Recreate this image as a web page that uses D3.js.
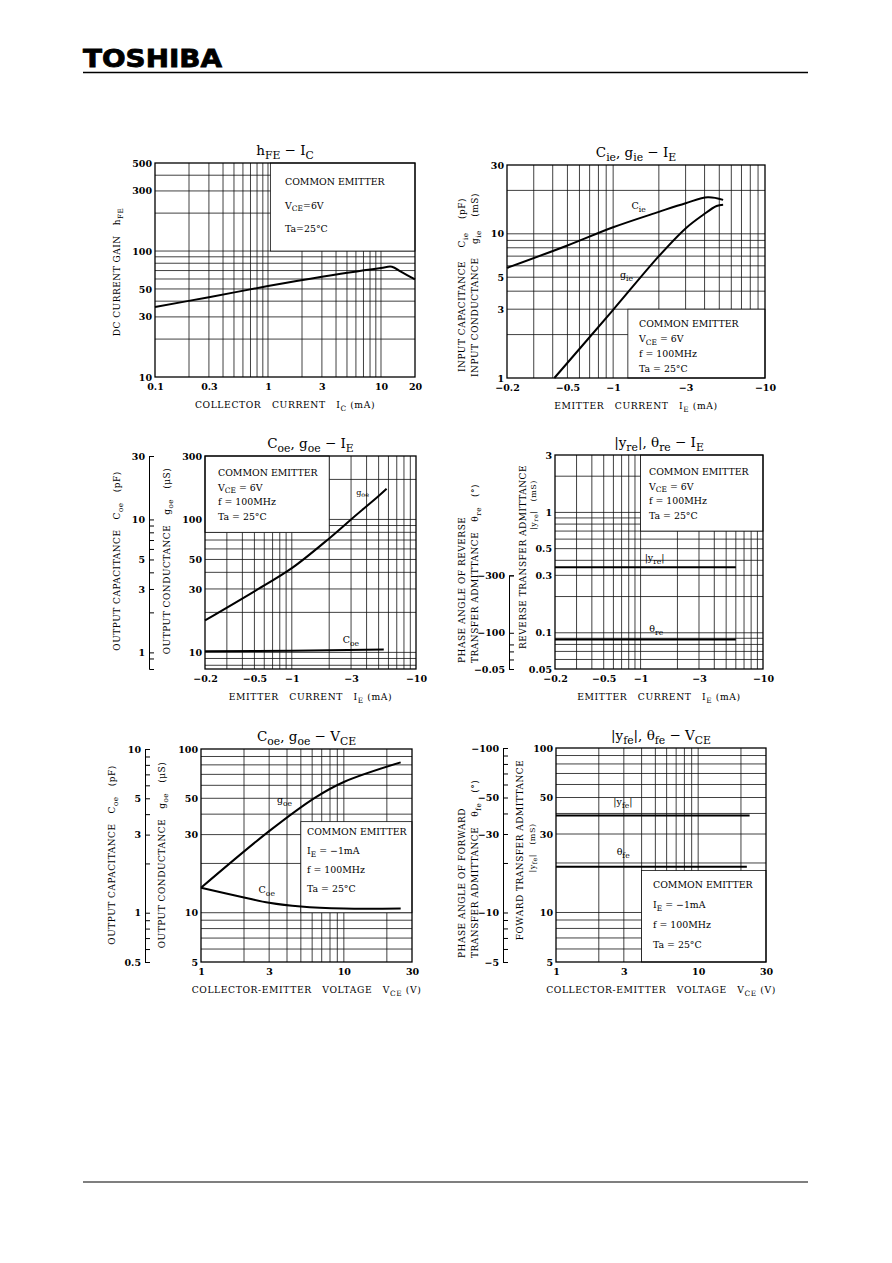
<!DOCTYPE html>
<html lang="en">
<head>
<meta charset="UTF-8">
<title>TOSHIBA – small-signal characteristics</title>
<script src="https://d3js.org/d3.v7.min.js"></script>
<style>
  body { margin: 0; background: #fff; }
  svg text { font-family: "DejaVu Serif", "Liberation Serif", serif; fill: #000; white-space: pre; }
</style>
</head>
<body>
<script>
// ---------- data ----------
// hFE – IC
const hfeIcX = [0.1, 0.3, 1, 3, 10, 12.5, 15, 20];
const hfeIcY = [36, 43, 52.7, 62.5, 73.5, 75, 68.5, 59.6];

// Cie, gie – IE (IE in mA, negative)
const cieIeX = [-0.2, -0.5, -1, -2, -3, -4.2, -5.3];
const cieIeY = [5.8, 8.3, 11.1, 14.2, 16.3, 17.9, 17.2];
const gieIeX = [-0.41, -1, -2, -3, -3.9, -4.8, -5.3];
const gieIeY = [1, 2.97, 7.0, 10.9, 13.5, 15.6, 15.9];

// Coe, goe – IE
const goeIeX = [-0.2, -0.5, -1, -2, -3, -5, -5.8];
const goeIeY = [17.4, 28.8, 43, 72, 100, 150, 170];
const coeIeX = [-0.2, -1, -5.5];
const coeIeY = [1.02, 1.03, 1.05];

// |yre|, θre – IE
const yreIeX = [-0.2, -6];
const yreIeY = [0.35, 0.35];
const thReIeX = [-0.2, -6];
const thReIeY = [-88, -88];

// Coe, goe – VCE
const goeVceX = [1, 3, 6.3, 10, 25];
const goeVceY = [14.2, 31.5, 50.5, 62.9, 82.9];
const coeVceX = [1, 2, 3, 5, 10, 25];
const coeVceY = [1.42, 1.24, 1.15, 1.09, 1.06, 1.06];

// |yfe|, θfe – VCE
const yfeVceX = [1, 23];
const yfeVceY = [38.9, 38.9];
const thFeVceX = [1, 22];
const thFeVceY = [-19, -19];

// ---------- tick labels ----------
const ticksIc = [0.1, 0.3, 1, 3, 10, 20];
const ticksHfe = [10, 30, 50, 100, 300, 500];
const ticksIe = [-0.2, -0.5, -1, -3, -10];
const ticksCie = [1, 3, 5, 10, 30];
const ticksGoeIe = [10, 30, 50, 100, 300];
const ticksYre = [0.05, 0.1, 0.3, 0.5, 1, 3];
const ticksVce = [1, 3, 10, 30];
const ticksGoeVce = [5, 10, 30, 50, 100];
const ticksYfe = [5, 10, 30, 50, 100];

const secTicksCoeIe = [30, 10, 9, 8, 7, 6, 5, 4, 3, 2, 1, 0.9];
const secLabelsCoeIe = [1, 3, 5, 10, 30];
const secTicksThRe = [-300, -100, -80, -70, -60, -50];
const secLabelsThRe = { "-300": "−300", "-100": "−100", "-50": "−0.05" };
const secTicksCoeVce = [10, 9, 8, 7, 6, 5, 4, 3, 2, 1, 0.9, 0.8, 0.7, 0.6, 0.5];
const secLabelsCoeVce = [0.5, 1, 3, 5, 10];
const secTicksThFe = [-100, -90, -80, -70, -60, -50, -40, -30, -20, -10, -9, -8, -7, -6, -5];
const secLabelsThFe = [-5, -10, -30, -50, -100];

const legendVce = ["COMMON EMITTER", "V{CE} = 6V", "f = 100MHz", "Ta = 25°C"];
const legendIe = ["COMMON EMITTER", "I{E} = −1mA", "f = 100MHz", "Ta = 25°C"];

// ---------- helpers ----------
const svg = d3.select("body").append("svg").attr("width", 892).attr("height", 1263);

function gridValues(domain) {
  const sign = domain[0] < 0 ? -1 : 1;
  const a = domain.map(Math.abs), lo = Math.min(...a), hi = Math.max(...a);
  const out = [];
  for (let e = Math.floor(Math.log10(lo)); e <= Math.ceil(Math.log10(hi)); e++) {
    for (let m = 1; m <= 9; m++) {
      const v = +(m * Math.pow(10, e)).toPrecision(6);
      if (v > lo * 1.0001 && v < hi * 0.9999) out.push(sign * v);
    }
  }
  return out;
}

// "C{ie}" -> C with subscript ie
function rich(sel, str, fs) {
  let sub = false;
  str.split(/(\{[^}]*\})/).filter(s => s.length).forEach(part => {
    const isSub = part[0] === "{";
    const t = sel.append("tspan").text(isSub ? part.slice(1, -1) : part);
    if (isSub) { t.attr("font-size", fs * 0.8).attr("dy", fs * 0.3); sub = true; }
    else if (sub) { t.attr("dy", -fs * 0.3); sub = false; }
  });
  return sel;
}

const fmt = v => (v < 0 ? "−" : "") + Math.abs(v);

// ---------- panels ----------
const panels = [
  {
    box: [155, 163, 415, 377], xDomain: [0.1, 20], yDomain: [10, 500],
    xTicks: ticksIc, yTicks: ticksHfe,
    title: "h{FE} − I{C}", xLabel: "COLLECTOR   CURRENT   I{C} (mA)",
    yLabels: [{ x: 120, y: 272, a: "middle", t: "DC CURRENT GAIN   h{FE}" }],
    clear: { x: [1.05, 20], y: [100, 500] },
    legend: { x: 285, y: 185, dy: 23.5, lines: ["COMMON EMITTER", "V{CE}=6V", "Ta=25°C"] },
    curves: [{ xs: hfeIcX, ys: hfeIcY }],
    notes: []
  },
  {
    box: [507, 165, 765, 378], xDomain: [-0.2, -10], yDomain: [1, 30],
    xTicks: ticksIe, yTicks: ticksCie,
    title: "C{ie}, g{ie} − I{E}", xLabel: "EMITTER   CURRENT   I{E} (mA)",
    yLabels: [
      { x: 465, y: 285, a: "middle", t: "INPUT CAPACITANCE    C{ie}    (pF)" },
      { x: 478, y: 285, a: "middle", t: "INPUT CONDUCTANCE    g{ie}    (mS)" }
    ],
    clear: { x: [-1.25, -10], y: [1, 3] },
    legend: { x: 639, y: 327, dy: 15, lines: legendVce },
    curves: [{ xs: cieIeX, ys: cieIeY }, { xs: gieIeX, ys: gieIeY }],
    notes: [{ t: "C{ie}", x: -1.32, y: 14.9 }, { t: "g{ie}", x: -1.11, y: 4.93 }]
  },
  {
    box: [205, 456, 416, 669], xDomain: [-0.2, -10], yDomain: [7.5, 300],
    xTicks: ticksIe, yTicks: ticksGoeIe,
    title: "C{oe}, g{oe} − I{E}", xLabel: "EMITTER   CURRENT   I{E} (mA)",
    yLabels: [
      { x: 120, y: 561, a: "middle", t: "OUTPUT CAPACITANCE   C{oe}   (pF)" },
      { x: 170, y: 561, a: "middle", t: "OUTPUT CONDUCTANCE   g{oe}   (μS)" }
    ],
    clear: { x: [-0.2, -2], y: [80, 300] },
    legend: { x: 218, y: 476, dy: 14.5, lines: legendVce },
    sec: { x: 149, domain: [0.75, 30], span: [0.75, 30], ticks: secTicksCoeIe,
           label: v => secLabelsCoeIe.includes(v) ? fmt(v) : "" },
    curves: [{ xs: goeIeX, ys: goeIeY }, { xs: coeIeX, ys: coeIeY, sec: true }],
    notes: [{ t: "g{oe}", x: -3.3, y: 153, fs: 8 }, { t: "C{oe}", x: -2.57, y: 11.8 }]
  },
  {
    box: [555, 455, 763, 669], xDomain: [-0.2, -10], yDomain: [0.05, 3],
    xTicks: ticksIe, yTicks: ticksYre,
    title: "|y{re}|, θ{re} − I{E}", xLabel: "EMITTER   CURRENT   I{E} (mA)",
    yLabels: [
      { x: 465, y: 663, a: "start", t: "PHASE ANGLE OF REVERSE" },
      { x: 478, y: 663, a: "start", t: "TRANSFER ADMITTANCE   θ{re}   (°)" },
      { x: 526, y: 557, a: "middle", t: "REVERSE TRANSFER ADMITTANCE" },
      { x: 536, y: 505, a: "middle", t: "|y{re}|   (mS)", fs: 8 }
    ],
    clear: { x: [-1, -10], y: [0.7, 3] },
    legend: { x: 649, y: 475, dy: 14.5, lines: legendVce },
    sec: { x: 509, domain: [-50, -3000], span: [-50, -300], ticks: secTicksThRe,
           label: v => secLabelsThRe[v] || "" },
    curves: [{ xs: yreIeX, ys: yreIeY }, { xs: thReIeX, ys: thReIeY, sec: true }],
    notes: [{ t: "|y{re}|", x: -1.08, y: 0.393 }, { t: "θ{re}", x: -1.18, y: 0.101 }]
  },
  {
    box: [201, 749, 412, 962], xDomain: [1, 30], yDomain: [5, 100],
    xTicks: ticksVce, yTicks: ticksGoeVce,
    title: "C{oe}, g{oe} − V{CE}", xLabel: "COLLECTOR-EMITTER   VOLTAGE   V{CE} (V)",
    yLabels: [
      { x: 115, y: 855, a: "middle", t: "OUTPUT CAPACITANCE   C{oe}   (pF)" },
      { x: 165, y: 855, a: "middle", t: "OUTPUT CONDUCTANCE   g{oe}   (μS)" }
    ],
    clear: { x: [5, 30], y: [10, 36] },
    legend: { x: 307, y: 835, dy: 19, lines: legendIe },
    sec: { x: 145, domain: [0.5, 10], span: [0.5, 10], ticks: secTicksCoeVce,
           label: v => secLabelsCoeVce.includes(v) ? fmt(v) : "" },
    curves: [{ xs: goeVceX, ys: goeVceY }, { xs: coeVceX, ys: coeVceY, sec: true }],
    notes: [{ t: "g{oe}", x: 3.4, y: 46.8 }, { t: "C{oe}", x: 2.53, y: 13.2 }]
  },
  {
    box: [556, 748, 766, 962], xDomain: [1, 30], yDomain: [5, 100],
    xTicks: ticksVce, yTicks: ticksYfe,
    title: "|y{fe}|, θ{fe} − V{CE}", xLabel: "COLLECTOR-EMITTER   VOLTAGE   V{CE} (V)",
    yLabels: [
      { x: 465, y: 958, a: "start", t: "PHASE ANGLE OF FORWARD" },
      { x: 478, y: 958, a: "start", t: "TRANSFER ADMITTANCE   θ{fe}   (°)" },
      { x: 523, y: 850, a: "middle", t: "FOWARD TRANSFER ADMITTANCE" },
      { x: 535, y: 848, a: "middle", t: "|y{fe}|   (mS)", fs: 8 }
    ],
    clear: { x: [4, 30], y: [5, 18] },
    legend: { x: 653, y: 888, dy: 20, lines: legendIe },
    sec: { x: 503, domain: [-5, -100], span: [-5, -100], ticks: secTicksThFe,
           label: v => secLabelsThFe.includes(v) ? fmt(v) : "" },
    curves: [{ xs: yfeVceX, ys: yfeVceY }, { xs: thFeVceX, ys: thFeVceY, sec: true }],
    notes: [{ t: "|y{fe}|", x: 2.53, y: 45.2 }, { t: "θ{fe}", x: 2.67, y: 22.4 }]
  }
];

function drawPanel(p) {
  const [L, T, R, B] = p.box;
  const x = d3.scaleLog().domain(p.xDomain).range([L, R]);
  const y = d3.scaleLog().domain(p.yDomain).range([B, T]);
  const s = p.sec ? d3.scaleLog().domain(p.sec.domain).range([B, T]) : null;
  const g = svg.append("g");

  // grid
  g.append("g").selectAll("line").data(gridValues(p.xDomain)).join("line")
    .attr("x1", d => x(d)).attr("x2", d => x(d)).attr("y1", T).attr("y2", B)
    .attr("stroke", "#111").attr("stroke-width", 0.8);
  g.append("g").selectAll("line").data(gridValues(p.yDomain)).join("line")
    .attr("y1", d => y(d)).attr("y2", d => y(d)).attr("x1", L).attr("x2", R)
    .attr("stroke", "#111").attr("stroke-width", 0.8);

  // blank area for the conditions text
  const cx = p.clear.x.map(x), cy = p.clear.y.map(y);
  g.append("rect")
    .attr("x", Math.min(...cx)).attr("y", Math.min(...cy))
    .attr("width", Math.abs(cx[1] - cx[0])).attr("height", Math.abs(cy[1] - cy[0]))
    .attr("fill", "#fff").attr("stroke", "#111").attr("stroke-width", 0.8);

  // frame
  g.append("rect").attr("x", L).attr("y", T).attr("width", R - L).attr("height", B - T)
    .attr("fill", "none").attr("stroke", "#000").attr("stroke-width", 1.3);

  // curves
  p.curves.forEach(c => {
    const ys = c.sec ? s : y;
    const pts = c.xs.map((v, i) => [x(v), ys(c.ys[i])]);
    g.append("path").attr("d", d3.line().curve(d3.curveCatmullRom.alpha(0.5))(pts))
      .attr("fill", "none").attr("stroke", "#000").attr("stroke-width", 2);
  });

  // axes (labels only, frame draws the lines)
  const xa = g.append("g").attr("transform", `translate(0,${B})`)
    .call(d3.axisBottom(x).tickValues(p.xTicks).tickFormat(fmt).tickSize(0).tickPadding(6));
  const ya = g.append("g").attr("transform", `translate(${L},0)`)
    .call(d3.axisLeft(y).tickValues(p.yTicks).tickFormat(fmt).tickSize(0).tickPadding(3));
  [xa, ya].forEach(a => {
    a.select(".domain").remove();
    a.attr("font-family", null).attr("font-size", null);
    a.selectAll("text").attr("font-size", 9.5).attr("font-weight", "bold");
  });

  // secondary axis
  if (p.sec) {
    const sub = d3.scaleLog().domain(p.sec.span).range(p.sec.span.map(s));
    const sa = g.append("g").attr("transform", `translate(${p.sec.x},0)`)
      .call(d3.axisLeft(sub).tickValues(p.sec.ticks).tickFormat(p.sec.label)
        .tickSizeInner(-5).tickSizeOuter(-5).tickPadding(4));
    sa.attr("font-family", null).attr("font-size", null);
    sa.selectAll("text").attr("font-size", 9.5).attr("font-weight", "bold");
    sa.selectAll("line, path").attr("stroke", "#000").attr("stroke-width", 1);
  }

  // title
  rich(g.append("text").attr("x", (L + R) / 2).attr("y", T - 8)
    .attr("text-anchor", "middle").attr("font-size", 13.5), p.title, 13.5);

  // x label
  rich(g.append("text").attr("x", (L + R) / 2).attr("y", B + 31)
    .attr("text-anchor", "middle").attr("font-size", 9.2).attr("letter-spacing", 0.6),
    p.xLabel, 9.2);

  // y labels
  p.yLabels.forEach(l => {
    const fs = l.fs || 9;
    rich(g.append("text").attr("transform", `translate(${l.x},${l.y}) rotate(-90)`)
      .attr("text-anchor", l.a).attr("font-size", fs).attr("letter-spacing", 0.5), l.t, fs);
  });

  // conditions
  p.legend.lines.forEach((t, i) => {
    rich(g.append("text").attr("x", p.legend.x).attr("y", p.legend.y + i * p.legend.dy)
      .attr("font-size", 9.4), t, 9.4);
  });

  // curve names
  p.notes.forEach(n => {
    const fs = n.fs || 9.5;
    rich(g.append("text").attr("x", x(n.x)).attr("y", y(n.y)).attr("font-size", fs), n.t, fs);
  });
}

panels.forEach(drawPanel);

// page header / footer
svg.append("text").attr("x", 83).attr("y", 67)
  .attr("textLength", 139).attr("lengthAdjust", "spacingAndGlyphs")
  .style("font-family", "'DejaVu Sans', 'Liberation Sans', sans-serif")
  .attr("font-weight", "bold").attr("font-size", 25)
  .attr("stroke", "#000").attr("stroke-width", 0.8).text("TOSHIBA");
svg.append("line").attr("x1", 83).attr("x2", 808).attr("y1", 72.5).attr("y2", 72.5)
  .attr("stroke", "#000").attr("stroke-width", 1.5);
svg.append("line").attr("x1", 83).attr("x2", 808).attr("y1", 1182).attr("y2", 1182)
  .attr("stroke", "#000").attr("stroke-width", 1.2);
</script>
</body>
</html>
